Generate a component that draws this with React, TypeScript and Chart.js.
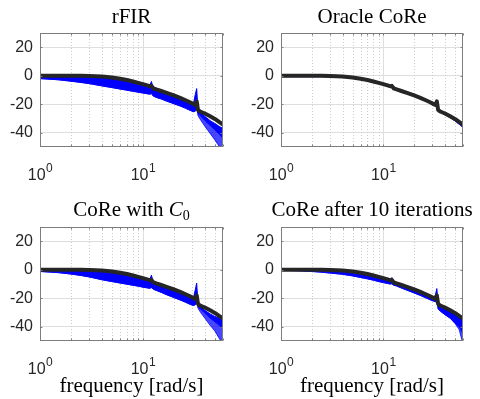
import React, { useEffect, useRef } from 'react';
import { Chart, registerables } from 'chart.js';

Chart.register(...registerables);

// ---------- data ----------
const frequency = [1, 1.5, 2, 2.5, 3, 4, 5, 6, 7, 8, 9, 10, 11, 11.6, 12.1, 12.6, 13.5, 15, 17, 20, 23, 26, 29, 31, 32.3, 33.3, 34.3, 36, 40, 45, 50, 55, 60];

const trueResponse = [0, 0, 0, 0, -0.1, -0.5, -1.2, -2.1, -3.0, -4.0, -5.0, -5.9, -6.8, -7.3, -7.1, -8.8, -9.6, -10.7, -12.0, -13.8, -15.5, -17.2, -18.8, -19.9, -20.5, -18.0, -24.0, -25.1, -26.5, -28.4, -30.3, -32.4, -34.3];

const rfirUpper = [0, 0, 0, 0, -0.1, -0.5, -1.2, -2.1, -3.0, -4.0, -5.0, -5.9, -6.8, -7.3, -4.0, -8.8, -9.6, -10.7, -12.0, -13.8, -15.5, -17.2, -18.8, -19.5, -13.0, -9.0, -24.4, -25.8, -28.5, -31.5, -33.5, -35.5, -37.0];
const rfirDense = [-2, -2.8, -3.8, -4.7, -5.5, -7.1, -8.3, -9.3, -10.1, -10.9, -11.5, -12.1, -12.6, -12.9, -12.5, -14.2, -15.2, -16.2, -17.8, -19.6, -21.2, -22.8, -24.4, -25.2, -24.8, -22.0, -26.5, -28.0, -31.5, -35.0, -38.0, -41.0, -44.0];
const rfirLower = [-2, -2.8, -3.8, -4.7, -5.5, -7.1, -8.3, -9.3, -10.1, -10.9, -11.5, -12.1, -12.6, -12.9, -12.5, -14.2, -15.2, -16.2, -17.8, -19.6, -21.2, -22.8, -24.4, -25.2, -24.8, -22.0, -28.0, -30.5, -35.5, -40.5, -45.0, -49.5, -53.0];

const oracleUpper = [0, 0, 0, 0, -0.1, -0.5, -1.2, -2.1, -3.0, -4.0, -5.0, -5.9, -6.8, -7.3, -6.6, -8.8, -9.6, -10.7, -12.0, -13.8, -15.5, -17.2, -18.8, -19.9, -20.5, -17.3, -24.0, -25.1, -26.5, -28.4, -30.3, -32.4, -34.3];
const oracleLower = [-0.6, -0.6, -0.6, -0.6, -0.7, -1.1, -1.8, -2.7, -3.6, -4.6, -5.6, -6.5, -7.4, -7.9, -7.7, -9.4, -10.2, -11.3, -12.6, -14.4, -16.1, -17.8, -19.4, -20.5, -21.1, -18.6, -24.6, -25.7, -27.3, -29.4, -31.5, -34.0, -36.3];

const c0Upper = [0, 0, 0, 0, -0.1, -0.5, -1.2, -2.1, -3.0, -4.0, -5.0, -5.9, -6.8, -7.3, -3.8, -8.8, -9.6, -10.7, -12.0, -13.8, -15.5, -17.2, -18.8, -19.5, -14.0, -9.3, -24.2, -25.5, -28.5, -31.0, -32.8, -33.8, -35.0];
const c0Dense = [-1.2, -2, -3, -4, -5, -7, -8.3, -9.3, -10.1, -10.9, -11.5, -12.2, -12.7, -13.0, -12.5, -13.6, -14.5, -15.8, -17.5, -19.5, -21.2, -22.8, -24.4, -25.0, -24.5, -22.0, -26.0, -27.5, -30.5, -34.0, -36.5, -39.0, -41.0];
const c0Lower = [-1.2, -2, -3, -4, -5, -7, -8.3, -9.3, -10.1, -10.9, -11.5, -12.2, -12.7, -13.0, -12.5, -13.6, -14.5, -15.8, -17.5, -19.5, -21.2, -22.8, -24.4, -25.0, -24.5, -22.0, -27.0, -29.5, -34.0, -39.0, -43.0, -48.0, -53.0];

const iterUpper = [0, 0, 0, 0, -0.1, -0.5, -1.2, -2.1, -3.0, -4.0, -5.0, -5.9, -6.8, -7.3, -5.5, -8.8, -9.6, -10.7, -12.0, -13.8, -15.5, -17.2, -18.8, -19.9, -17.5, -13.2, -24.4, -25.1, -26.5, -28.4, -30.3, -32.4, -34.3];
const iterDense = [-0.4, -0.7, -1.2, -1.7, -2.3, -3.2, -4.3, -5.4, -6.4, -7.3, -8.3, -9.0, -9.6, -10.0, -9.8, -10.8, -11.4, -12.8, -14.3, -16.3, -18.0, -19.7, -21.2, -22.0, -22.5, -20.5, -27.5, -29.0, -31.5, -34.0, -37.5, -40.0, -45.0];
const iterLower = [-0.4, -0.7, -1.2, -1.7, -2.3, -3.2, -4.3, -5.4, -6.4, -7.3, -8.3, -9.0, -9.6, -10.0, -9.8, -10.8, -11.4, -12.8, -14.3, -16.3, -18.0, -19.7, -21.2, -22.0, -22.5, -20.5, -27.5, -29.0, -31.5, -34.0, -37.5, -42.0, -52.0];

const yTickValues = [-40, -20, 0, 20];
const xGridValues = [1, 2, 3, 4, 5, 6, 7, 8, 9, 10, 20, 30, 40, 50, 60];
const xDecades = [1, 10];
const xDecadeExponents = ['0', '1'];
const xLabelText = 'frequency [rad/s]';

// ---------- layout / style ----------
const panels = [
  { left: 0, top: 0, yWidth: 40, padRight: 17, upper: rfirUpper, dense: rfirDense, lower: rfirLower },
  { left: 240, top: 0, yWidth: 41, padRight: 17, upper: oracleUpper, dense: oracleLower, lower: oracleLower },
  { left: 0, top: 194, yWidth: 40, padRight: 17, upper: c0Upper, dense: c0Dense, lower: c0Lower },
  { left: 240, top: 194, yWidth: 41, padRight: 17, upper: iterUpper, dense: iterDense, lower: iterLower },
];

const toPoints = (ys: number[]) => frequency.map((f, i) => ({ x: f, y: ys[i] }));

const axesPlugin = {
  id: 'matlabAxes',
  beforeDatasetsDraw(chart: any) {
    const { ctx, chartArea: a } = chart;
    const xs = chart.scales.x;
    ctx.save();
    ctx.lineWidth = 1;
    xGridValues.forEach((v) => {
      if (v <= 1 || v >= 60) return;
      const px = Math.round(xs.getPixelForValue(v)) + 0.5;
      const major = xDecades.includes(v);
      ctx.strokeStyle = major ? '#dedede' : '#cdcdcd';
      ctx.setLineDash(major ? [] : [1, 2]);
      ctx.beginPath();
      ctx.moveTo(px, a.top);
      ctx.lineTo(px, a.bottom);
      ctx.stroke();
    });
    ctx.restore();
  },
  afterDatasetsDraw(chart: any) {
    const { ctx, chartArea: a } = chart;
    const xs = chart.scales.x;
    const ys = chart.scales.y;
    ctx.save();
    ctx.strokeStyle = '#7d7d7d';
    ctx.lineWidth = 1;
    ctx.setLineDash([]);
    const l = Math.round(a.left) + 0.5;
    const r = Math.round(a.right) - 0.5;
    const t = Math.round(a.top) + 0.5;
    const b = Math.round(a.bottom) - 0.5;
    ctx.strokeRect(l, t, r - l, b - t);
    ctx.beginPath();
    xGridValues.forEach((v) => {
      const px = Math.round(xs.getPixelForValue(v)) + 0.5;
      ctx.moveTo(px, b); ctx.lineTo(px, b - 2);
      ctx.moveTo(px, t); ctx.lineTo(px, t + 2);
    });
    yTickValues.forEach((v) => {
      const py = Math.round(ys.getPixelForValue(v)) + 0.5;
      ctx.moveTo(l, py); ctx.lineTo(l + 2, py);
      ctx.moveTo(r, py); ctx.lineTo(r - 2, py);
    });
    ctx.stroke();
    ctx.restore();
  },
  afterDraw(chart: any) {
    const { ctx, chartArea: a } = chart;
    const xs = chart.scales.x;
    ctx.save();
    ctx.fillStyle = '#262626';
    ctx.textBaseline = 'alphabetic';
    ctx.textAlign = 'left';
    xDecades.forEach((v, i) => {
      const px = xs.getPixelForValue(v);
      ctx.font = '16px "Liberation Sans", Arial, sans-serif';
      const wBase = ctx.measureText('10').width;
      ctx.font = '12px "Liberation Sans", Arial, sans-serif';
      const wExp = ctx.measureText(xDecadeExponents[i]).width;
      const start = px - (wBase + wExp) / 2;
      const base = a.bottom + 33;
      ctx.font = '16px "Liberation Sans", Arial, sans-serif';
      ctx.fillText('10', start, base);
      ctx.font = '12px "Liberation Sans", Arial, sans-serif';
      ctx.fillText(xDecadeExponents[i], start + wBase + 0.5, base - 8);
    });
    ctx.restore();
  },
};

function makeConfig(p: typeof panels[number]): any {
  return {
    type: 'line',
    data: {
      datasets: [
        { data: toPoints(trueResponse), borderColor: '#262626', borderWidth: 4, order: 0, fill: false },
        { data: toPoints(p.upper), borderColor: '#0000ff', borderWidth: 1, order: 1, fill: false },
        { data: toPoints(p.dense), borderColor: '#0000ff', borderWidth: 1, order: 2, fill: 1, backgroundColor: '#0000ff' },
        { data: toPoints(p.lower), borderColor: 'rgba(0,0,255,0.8)', borderWidth: 1, order: 3, fill: 2, backgroundColor: 'rgba(0,0,255,0.72)' },
      ],
    },
    options: {
      animation: false,
      responsive: false,
      maintainAspectRatio: false,
      devicePixelRatio: 1,
      events: [],
      layout: { padding: { left: 0, right: p.padRight, top: 33, bottom: 0 } },
      elements: { point: { radius: 0 }, line: { tension: 0, borderJoinStyle: 'round' } },
      plugins: { legend: { display: false }, tooltip: { enabled: false }, title: { display: false } },
      scales: {
        x: {
          type: 'logarithmic',
          min: 1,
          max: 60,
          ticks: { display: false },
          grid: { display: false },
          border: { display: false },
          afterFit: (s: any) => { s.height = 53; },
        },
        y: {
          type: 'linear',
          min: -50,
          max: 30,
          afterBuildTicks: (s: any) => { s.ticks = yTickValues.map((v) => ({ value: v })); },
          ticks: {
            font: { family: '"Liberation Sans", Arial, sans-serif', size: 16 },
            color: '#262626',
            padding: 7,
            callback: (v: any) => String(v),
          },
          grid: { color: '#dedede', drawTicks: false, lineWidth: 1 },
          border: { display: false },
          afterFit: (s: any) => { s.width = p.yWidth; },
        },
      },
    },
    plugins: [axesPlugin],
  };
}

const serif = '"Liberation Serif", "Times New Roman", serif';

const titleStyle = (cx: number, top: number): React.CSSProperties => ({
  position: 'absolute',
  left: cx - 150,
  top,
  width: 300,
  textAlign: 'center',
  fontFamily: serif,
  fontSize: 21,
  lineHeight: '21px',
  color: '#000',
  whiteSpace: 'nowrap',
});

export default function App() {
  const r0 = useRef<HTMLCanvasElement>(null);
  const r1 = useRef<HTMLCanvasElement>(null);
  const r2 = useRef<HTMLCanvasElement>(null);
  const r3 = useRef<HTMLCanvasElement>(null);
  const refs = [r0, r1, r2, r3];

  useEffect(() => {
    const charts = panels.map((p, i) => new Chart(refs[i].current as HTMLCanvasElement, makeConfig(p)));
    return () => charts.forEach((c) => c.destroy());
  }, []);

  return (
    <div style={{ position: 'absolute', left: 0, top: 0, width: 480, height: 399, background: '#fff', overflow: 'hidden' }}>
      {panels.map((p, i) => (
        <canvas
          key={i}
          ref={refs[i]}
          width={240}
          height={200}
          style={{ position: 'absolute', left: p.left, top: p.top, width: 240, height: 200, display: 'block' }}
        />
      ))}
      <div style={titleStyle(131.5, 6)}>rFIR</div>
      <div style={titleStyle(372, 6)}>Oracle CoRe</div>
      <div style={titleStyle(131.5, 199)}>
        CoRe with <i>C</i>
        <span style={{ fontSize: 14, position: 'relative', top: 4 }}>0</span>
      </div>
      <div style={titleStyle(372, 199)}>CoRe after 10 iterations</div>
      <div style={titleStyle(131.5, 375)}>{xLabelText}</div>
      <div style={titleStyle(372, 375)}>{xLabelText}</div>
    </div>
  );
}
